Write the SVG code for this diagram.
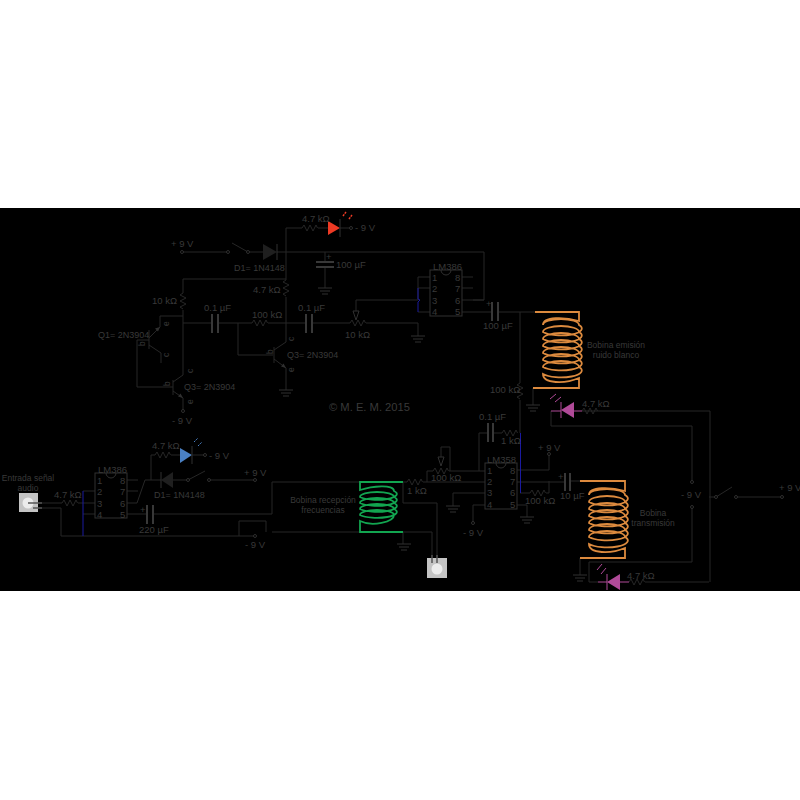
<svg xmlns="http://www.w3.org/2000/svg" width="800" height="800" viewBox="0 0 800 800">
<style>
.w{fill:none;stroke:#272727;stroke-width:1}
.t{fill:#393939;font-family:"Liberation Sans",Arial,sans-serif;font-size:9.5px}
.s{font-size:8.5px}
.q{font-size:9px}
.m{text-anchor:middle}
.c{fill:#000;stroke:#383838;stroke-width:.8}
.cap{fill:none;stroke:#383838;stroke-width:2}
.ic{fill:none;stroke:#303030;stroke-width:1}
.or{fill:none;stroke:#dc8a3e;stroke-width:1.800}
.gr{fill:none;stroke:#12a550;stroke-width:1.800}
.b{fill:none;stroke:#1a1aa0;stroke-width:1}
</style>
<defs>
<path id="r" class="w" d="M0 0l2-3 3 6 3-6 3 6 3-6 1.500 3"/>
<path id="rv" class="w" d="M0 0l-3 2 6 3-6 3 6 3-6 3 3 2"/>
<g id="gnd"><path d="M-7 0H7M-5 3H5M-3 6H3" fill="none" stroke="#303030"/></g>
</defs>
<rect x="0" y="208" width="800" height="383" fill="#000"/>
<g id="connectors">
<path class="w" d="M182 252H228M248 252H263M277 252H484V300H473M325 252V262M325 267V288M286 228V280M286 297V342M286 228H302M318 228H328M340 228H351M183 279H286M183 279V293M183 310V375M160 316H183M160 316V327M161 353V363M149 340H137V387H173M183 398V411M183 323H212M218 323H252M268 323H306M312 323H350M366 323H418M238 323V355H273M286 368V390M356 300H418V277H430M356 300V311M418 288H430M418 312H430M418 323V336M462 312H492M498 312H535M520 312V383M520 400V433M462 277H473M462 288H473M462 300H484"/>
<path class="w" d="M533 388V405M582 411H710V582M551 411V426H692V482M692 507V562H589V582H598M645 582H709M709 497H716M716 497L732 487M736 497H782M580 558V575"/>
<path class="w" d="M520 493H530M546 493H549M517 470H549V454M517 482H565M570 481H580M549 481V493M427 471H433M449 471H485M427 471V482M403 482H407M423 482H485M441 447H450V471M441 447V457M485 493H453V506M485 505H473V523M517 505H527V517M479 471V433H488M493 433H502M403 482V503H437V555M403 532H432V555M403 532V544M360 532H272M272 482H360M272 482V514H153M147 514H127M266 532V521H239V536M61 536H255M61 536V508H38M38 503H62M78 503H95M83 491H95M83 514H95M127 480H138M127 491H138M127 503H137L145 480H161M173 480H188M188 480L205 471M209 480H255M151 455V480M151 455H155M171 455H180M192 455H205"/>
<path class="b" d="M418 288V299L420 300L418 302V312"/>
<path class="b" d="M83 491V536"/>
<path class="b" d="M520.500 433V493"/>
</g>
<g id="resistors">
<use href="#rv" x="286" y="280"/><use href="#rv" x="183" y="293"/>
<use href="#r" x="302" y="228"/><use href="#r" x="252" y="323"/><use href="#r" x="350" y="323"/>
<use href="#rv" x="520" y="383"/><use href="#r" x="582" y="411"/><use href="#r" x="629" y="582"/>
<use href="#r" x="530" y="493"/><use href="#r" x="502" y="433"/><use href="#r" x="433" y="471"/><use href="#r" x="407" y="482"/>
<use href="#r" x="62" y="503"/><use href="#r" x="155" y="455"/>
<path d="M356 320l-3-9h6zM441 466l-3-9h6z" fill="none" stroke="#303030"/>
</g>
<g id="grounds">
<use href="#gnd" x="325" y="288"/><use href="#gnd" x="286" y="390"/><use href="#gnd" x="418" y="336"/><use href="#gnd" x="533" y="405"/><use href="#gnd" x="580" y="575"/><use href="#gnd" x="453" y="506"/><use href="#gnd" x="527" y="517"/><use href="#gnd" x="404" y="544"/>
</g>
<g id="capacitors">
<path class="cap" d="M316 262H334M316 267H334M212 314V333M218 314V333M306 314V333M312 314V333M492 302V321M498 302V321M565 473V491M570 473V491M488 423V442M493 423V442M147 505V524M153 505V524"/>
</g>
<g id="transistors">
<path class="w" d="M149 330V349M160 327L149 338M149 345L161 353M173 380V395M183 375L173 382M173 391L183 398M274 347V363M286 342L274 350M274 359L286 368"/>
<path d="M160 327l-5 1.500 3 3zM183 398l-5-1.500 2.500-3zM286 368l-5-1.500 2.500-3z" fill="#303030"/>
</g>
<g id="diodes">
<path d="M263 244V260L277 252Z" fill="#1f1f1f"/><path d="M277 244V260" stroke="#303030"/>
<path d="M173 472V488L161 480Z" fill="#1f1f1f"/><path d="M161 472V488" stroke="#303030"/>
<path d="M232 243L248 252" class="w"/>
</g>
<g id="leds">
<path d="M328 221V235L340 228Z" fill="#ee3a24"/><path d="M340 219V237" stroke="#303030"/>
<path d="M343 216l3-4M349 219l3-4" stroke="#ee3a24" stroke-width="1.500" stroke-dasharray="2 1"/>
<path d="M180 448V463L192 455Z" fill="#4a80c4"/><path d="M192 446V464" stroke="#303030"/>
<path d="M194 442l4-4M198 446l4-4" stroke="#4a80c4" stroke-width="1" stroke-dasharray="2 1"/>
<path d="M574 402V418L561 410Z" fill="#b04a98"/><path d="M561 402V418M551 411H561M574 411H582" stroke="#b04a98"/>
<path d="M550 399l6-5M555 402l6-5" stroke="#b04a98"/>
<path d="M620 574V590L607 582Z" fill="#b04a98"/><path d="M607 574V590M598 582H607M620 582H629" stroke="#b04a98"/>
<path d="M597 570l5-6M601 574l5-6" stroke="#b04a98"/>
</g>
<g id="terminals">
<circle class="c" cx="182" cy="252" r="1.500"/><circle class="c" cx="228" cy="252" r="1.500"/><circle class="c" cx="248" cy="252" r="1.500"/><circle class="c" cx="351" cy="228" r="1.500"/><circle class="c" cx="183" cy="411" r="1.500"/><circle class="c" cx="692" cy="482" r="1.500"/><circle class="c" cx="692" cy="507" r="1.500"/><circle class="c" cx="716" cy="497" r="1.500"/><circle class="c" cx="736" cy="497" r="1.500"/><circle class="c" cx="782" cy="497" r="1.500"/><circle class="c" cx="549" cy="454" r="1.500"/><circle class="c" cx="473" cy="523" r="1.500"/><circle class="c" cx="255" cy="536" r="1.500"/><circle class="c" cx="188" cy="480" r="1.500"/><circle class="c" cx="209" cy="480" r="1.500"/><circle class="c" cx="255" cy="480" r="1.500"/><circle class="c" cx="205" cy="455" r="1.500"/>
</g>
<g id="lm386a">
<rect class="ic" x="430" y="270" width="32" height="46"/><path class="ic" d="M441 270a5 5 0 0 0 10 0"/>
<text class="t" x="433" y="270">LM386</text>
<text class="t" x="432" y="281">1</text><text class="t" x="432" y="292">2</text><text class="t" x="432" y="304">3</text><text class="t" x="432" y="315">4</text>
<text class="t" x="455" y="281">8</text><text class="t" x="455" y="292">7</text><text class="t" x="455" y="304">6</text><text class="t" x="455" y="315">5</text>
</g>
<g id="lm386b">
<rect class="ic" x="95" y="473" width="32" height="45"/><path class="ic" d="M106 473a5 5 0 0 0 10 0"/>
<text class="t" x="98" y="473">LM386</text>
<text class="t" x="97" y="484">1</text><text class="t" x="97" y="495">2</text><text class="t" x="97" y="507">3</text><text class="t" x="97" y="518">4</text>
<text class="t" x="120" y="484">8</text><text class="t" x="120" y="495">7</text><text class="t" x="120" y="507">6</text><text class="t" x="120" y="518">5</text>
</g>
<g id="lm358">
<rect class="ic" x="485" y="463" width="32" height="46"/><path class="ic" d="M496 463a5 5 0 0 0 10 0"/>
<text class="t" x="487" y="463">LM358</text>
<text class="t" x="487" y="474">1</text><text class="t" x="487" y="485">2</text><text class="t" x="487" y="496">3</text><text class="t" x="487" y="508">4</text>
<text class="t" x="510" y="474">8</text><text class="t" x="510" y="485">7</text><text class="t" x="510" y="496">6</text><text class="t" x="510" y="508">5</text>
</g>
<g id="coil-emision">
<path class="or" d="M535 312H579V321C565 317 543 316 543 325A18 6 0 0 1 579 325A18 6 0 0 1 543 332A18 6 0 0 1 579 332A18 6 0 0 1 543 339A18 6 0 0 1 579 339A18 6 0 0 1 543 346A18 6 0 0 1 579 346A18 6 0 0 1 543 353A18 6 0 0 1 579 353A18 6 0 0 1 543 360A18 6 0 0 1 579 360A18 6 0 0 1 543 367A18 6 0 0 1 579 367A18 6 0 0 1 543 374C543 384 565 384 579 378V388H533"/>
</g>
<g id="coil-transmision">
<path class="or" d="M580 481H625V491C611 487 589 486 589 495A18 6 0 0 1 625 495A18 6 0 0 1 589 502A18 6 0 0 1 625 502A18 6 0 0 1 589 509A18 6 0 0 1 625 509A18 6 0 0 1 589 516A18 6 0 0 1 625 516A18 6 0 0 1 589 523A18 6 0 0 1 625 523A18 6 0 0 1 589 530A18 6 0 0 1 625 530A18 6 0 0 1 589 537A18 6 0 0 1 625 537A18 6 0 0 1 589 544C589 554 611 554 625 548V558H580"/>
</g>
<g id="coil-recepcion">
<path class="gr" d="M403 482H360V490C372 486 394 484 394 491A17 5 0 0 1 360 497A17 5 0 0 1 394 497A17 5 0 0 1 360 503A17 5 0 0 1 394 503A17 5 0 0 1 360 509A17 5 0 0 1 394 509A17 5 0 0 1 360 515A17 5 0 0 1 394 515C394 522 372 527 360 521V532H403"/>
</g>
<g id="jack-entrada">
<rect x="19" y="493" width="19" height="19" fill="#c4c4c4"/><circle cx="28" cy="503" r="5.500" fill="#ececec"/>
<path d="M28 503H42M33 508H42" stroke="#555" stroke-width="1.500"/>
</g>
<g id="jack-salida">
<rect x="427" y="558" width="20" height="20" fill="#c4c4c4"/><circle cx="437" cy="569" r="5.500" fill="#ececec"/>
<path d="M432 555V563M437 555V563" stroke="#555" stroke-width="1.500"/>
</g>
<g id="labels">
<text class="t" x="171" y="247">+ 9 V</text><text class="t" x="302" y="222">4.7 kΩ</text><text class="t" x="355" y="231">- 9 V</text>
<text class="t q" x="234" y="271">D1= 1N4148</text><text class="t" x="336" y="268">100 µF</text><text class="t" x="253" y="293">4.7 kΩ</text>
<text class="t" x="152" y="304">10 kΩ</text><text class="t" x="204" y="311">0.1 µF</text><text class="t" x="252" y="318">100 kΩ</text><text class="t" x="298" y="311">0.1 µF</text>
<text class="t" x="345" y="338">10 kΩ</text><text class="t" x="483" y="329">100 µF</text>
<text class="t q" x="98" y="338">Q1= 2N3904</text><text class="t q" x="184" y="390">Q3= 2N3904</text><text class="t q" x="287" y="358">Q3= 2N3904</text><text class="t" x="172" y="424">- 9 V</text>
<text class="t s" x="145" y="346" transform="rotate(-90 145 346)">b</text><text class="t s" x="169" y="326" transform="rotate(-90 169 326)">e</text><text class="t s" x="169" y="357" transform="rotate(-90 169 357)">c</text>
<text class="t s" x="170" y="386" transform="rotate(-90 170 386)">b</text><text class="t s" x="193" y="373" transform="rotate(-90 193 373)">c</text><text class="t s" x="193" y="404" transform="rotate(-90 193 404)">e</text>
<text class="t s" x="273" y="354" transform="rotate(-90 273 354)">b</text><text class="t s" x="294" y="341" transform="rotate(-90 294 341)">c</text><text class="t s" x="294" y="372" transform="rotate(-90 294 372)">e</text>
<text class="t" x="329" y="411" style="font-size:11.200px">© M. E. M. 2015</text>
<text class="t s m" x="616" y="348">Bobina emisión</text><text class="t s m" x="616" y="358">ruido blanco</text>
<text class="t" x="490" y="393">100 kΩ</text><text class="t" x="582" y="407">4.7 kΩ</text><text class="t" x="479" y="420">0.1 µF</text><text class="t" x="501" y="444">1 kΩ</text>
<text class="t" x="538" y="451">+ 9 V</text><text class="t" x="560" y="499">10 µF</text><text class="t" x="525" y="504">100 kΩ</text>
<text class="t" x="681" y="498">- 9 V</text><text class="t" x="779" y="491">+ 9 V</text>
<text class="t s m" x="653" y="516">Bobina</text><text class="t s m" x="653" y="526">transmisión</text>
<text class="t" x="627" y="579">4.7 kΩ</text><text class="t" x="431" y="481">100 kΩ</text><text class="t" x="407" y="494">1 kΩ</text><text class="t" x="463" y="536">- 9 V</text>
<text class="t s m" x="323" y="503">Bobina recepción</text><text class="t s m" x="323" y="513">frecuencias</text>
<text class="t s m" x="28" y="481">Entrada señal</text><text class="t s m" x="28" y="491">audio</text>
<text class="t" x="54" y="498">4.7 kΩ</text><text class="t" x="152" y="449">4.7 kΩ</text><text class="t" x="209" y="459">- 9 V</text><text class="t" x="244" y="476">+ 9 V</text>
<text class="t q" x="154" y="498">D1= 1N4148</text><text class="t" x="139" y="533">220 µF</text><text class="t" x="245" y="548">- 9 V</text>
<text class="t" x="486" y="307">+</text><text class="t" x="326" y="260">+</text><text class="t" x="140" y="513">+</text><text class="t" x="558" y="480">+</text>
</g>
</svg>
